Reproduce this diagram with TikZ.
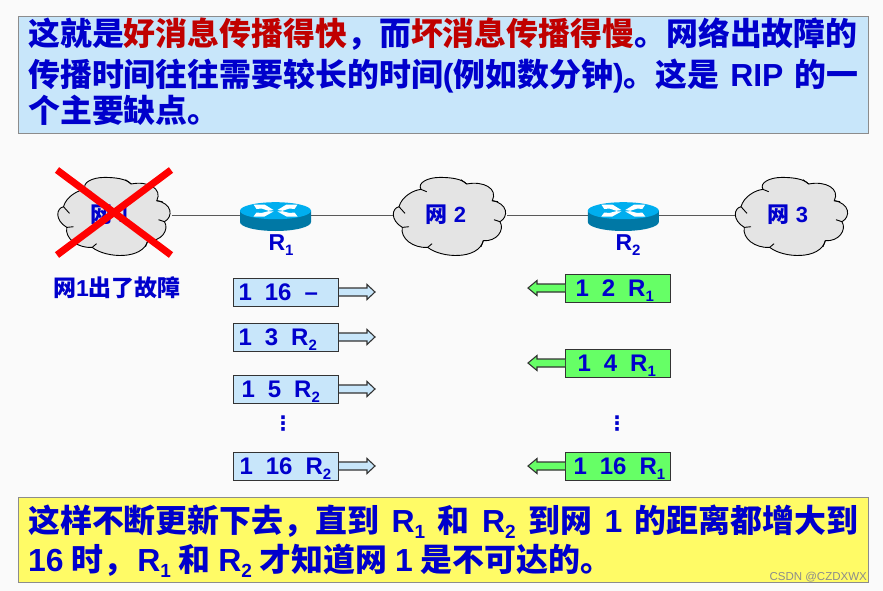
\documentclass[tikz,border=0pt]{standalone}
\usepackage{fontspec}
\setmainfont{Liberation Sans}
\newfontfamily\cjk{Noto Sans CJK SC}
\newfontfamily\dejavu{DejaVu Sans}
\usetikzlibrary{calc}
\definecolor{txtblue}{HTML}{0000CC}
\definecolor{skyfill}{HTML}{C8E6FA}
\definecolor{yellowfill}{HTML}{FFFB66}
\definecolor{greenfill}{HTML}{66FF66}
\definecolor{pagebg}{HTML}{FAFAFA}
\definecolor{cloudfill}{HTML}{E4E4E4}
\definecolor{darkred}{HTML}{C00000}
\definecolor{routertop}{HTML}{00AEEF}
\definecolor{routerside}{HTML}{0078A5}
\newcommand{\zh}[1]{{\cjk #1}}
\newcommand{\subs}[1]{\raisebox{-5pt}{\fontsize{15}{15}\selectfont #1}}
\newcommand{\subb}[1]{\raisebox{-6pt}{\fontsize{19}{19}\selectfont #1}}
\newcommand{\bigline}[2][830pt]{\makebox[#1][s]{\fontsize{31.9}{34}\selectfont\bfseries #2}}
\tikzset{
  x=1pt,y=-1pt,
  panel/.style={draw=black!45,line width=1pt},
  bigtext/.style={anchor=base west,inner sep=0pt,text=txtblue,font=\bfseries\fontsize{31.9}{34}\selectfont},
  netnode/.style={minimum width=114pt,minimum height=78pt,inner sep=0pt,text=txtblue,font=\bfseries\fontsize{22}{24}\selectfont},
  cloudedge/.style={draw=black,line width=0.9pt},
  routerbox/.style={minimum width=71pt,minimum height=30pt,inner sep=0pt},
  link/.style={draw=black!65,line width=1pt},
  rtlabel/.style={text=txtblue,inner sep=0pt,font=\bfseries\fontsize{23}{25}\selectfont},
  tablebox/.style={draw=black!80,line width=1pt,minimum width=105pt,minimum height=28pt,inner sep=0pt,text width=105pt,text height=18pt,text depth=2pt,align=left,text=txtblue,font=\bfseries\fontsize{24}{26}\selectfont},
  bluebox/.style={tablebox,fill=skyfill},
  greenbox/.style={tablebox,fill=greenfill},
  dots/.style={text=txtblue,inner sep=0pt,font=\dejavu\bfseries\fontsize{20}{22}\selectfont},
  crossline/.style={draw=red,line width=7pt},
}
\newcommand{\cloudshape}[2]{%
  \begin{scope}[shift={(#1,#2)}]
    \path[cloudedge,fill=cloudfill] (-51,-9)
      .. controls (-48.3,-19) and (-36.7,-25.7) .. (-29,-26.3)
      .. controls (-33,-33) and (-22,-38.3) .. (-10,-38.3)
      .. controls (0,-38.3) and (12,-37) .. (16.7,-31.7)
      .. controls (33.3,-35) and (48.3,-27.3) .. (42.3,-15)
      .. controls (57.7,-12.3) and (59,1) .. (50,6)
      .. controls (55,14.3) and (46.7,26) .. (33.3,25)
      .. controls (28.3,44.3) and (-8.3,42.7) .. (-22.3,31.7)
      .. controls (-36.7,32.7) and (-50,22.7) .. (-47.7,11.7)
      .. controls (-60,4.3) and (-58.3,-7.3) .. (-51,-9) -- cycle;
    \draw[cloudedge] (-51,-9) .. controls (-48,-6) .. (-45,-2.3);
    \draw[cloudedge] (-29,-26.3) -- (-23.3,-24);
    \draw[cloudedge] (16.7,-31.7) -- (11,-36);
    \draw[cloudedge] (42.3,-15) -- (48,-14);
    \draw[cloudedge] (50,6) -- (44,4);
    \draw[cloudedge] (33.3,25) -- (31,31);
    \draw[cloudedge] (-22.3,31.7) -- (-18,28);
    \draw[cloudedge] (-47.7,11.7) -- (-41,11);
  \end{scope}}
\newcommand{\rightarrowshape}[1]{%
  \draw[black!80,line width=1.1pt,fill=skyfill] ($(#1.east)+(0,-4)$) -- ++(28,0) -- ++(0,-3.5) -- ++(8,7.5) -- ++(-8,7.5) -- ++(0,-3.5) -- ++(-28,0);}
\newcommand{\leftarrowshape}[1]{%
  \draw[black!80,line width=1.1pt,fill=greenfill] ($(#1.west)+(0,-4)$) -- ++(-28,0) -- ++(0,-3.5) -- ++(-9,7.5) -- ++(9,7.5) -- ++(0,-3.5) -- ++(28,0);}
\newcommand{\routershape}[1]{%
  \begin{scope}[shift={(#1.center)}]
    \fill[routerside] (-35.5pt,6.3pt) -- (-35.5pt,-5pt) arc[x radius=35.5pt,y radius=9pt,start angle=180,end angle=360] -- (35.5pt,6.3pt) -- cycle;
    \fill[routertop] (0pt,6.3pt) ellipse[x radius=35.5pt,y radius=8.5pt];
    \fill[white] (-22,-12.5) -- (-11,-12.5) -- (-2,-7) -- (-7,-6.2) -- (-14,-8.5) -- (-19,-8) -- cycle;
    \fill[white] (22,-12.5) -- (11,-12.5) -- (2,-7) -- (7,-6.2) -- (14,-8.5) -- (19,-8) -- cycle;
    \fill[white] (-22,-0.5) -- (-11,-0.5) -- (-2,-5.5) -- (-7,-5.8) -- (-14,-4) -- (-19,-4.5) -- cycle;
    \fill[white] (22,-0.5) -- (11,-0.5) -- (2,-5.5) -- (7,-5.8) -- (14,-4) -- (19,-4.5) -- cycle;
  \end{scope}}
\begin{document}
\begin{tikzpicture}
\fill[pagebg] (0,0) rectangle (883,591);
\useasboundingbox (0,0) rectangle (883,591);

% top panel
\path[panel,fill=skyfill] (18,17) rectangle (868,134);
\node[bigtext] (t1) at (28,46) {\bigline{\zh{这就是\textcolor{darkred}{好消息传播得快}，而\textcolor{darkred}{坏消息传播得慢}。网络出故障的}}};
\node[bigtext] (t2) at (28,87) {\bigline{\zh{传播时间往往需要较长的时间}(\zh{例如数分钟})\zh{。这是} RIP \zh{的一}}};
\node[bigtext] (t3) at (28,123) {\zh{个主要缺点。}};

% network
\cloudshape{114.5}{215.7}
\cloudshape{450}{215.7}
\cloudshape{792}{215.7}
\node[netnode] (n1) at (114.5,215) {\zh{网} 1\hspace*{8pt}};
\node[netnode] (n2) at (450,215) {\zh{网} 2\hspace*{8pt}};
\node[netnode] (n3) at (792,215) {\zh{网} 3\hspace*{8pt}};
\node[routerbox] (r1) at (275.5,217) {};
\node[routerbox] (r2) at (623.3,217) {};
\draw[link] (n1.east) -- (n1.east -| r1.west);
\draw[link] (n2.west -| r1.east) -- (n2.west);
\draw[link] (n2.east) -- (n2.east -| r2.west);
\draw[link] (n3.west -| r2.east) -- (n3.west);
\routershape{r1}
\routershape{r2}
\node[rtlabel] (l1) at (281,245) {R\subs{1}};
\node[rtlabel] (l2) at (628,245) {R\subs{2}};
\draw[crossline] (57,170) -- (171,255);
\draw[crossline] (171,170) -- (57,255);
\node[text=txtblue,inner sep=0pt,font=\bfseries\fontsize{23}{25}\selectfont] (fail) at (117,288) {\zh{网}1\zh{出了故障}};

% left tables
\node[bluebox] (a1) at (286,292) {\hspace*{5pt}1\hspace{13pt}16\hspace{13pt}–};
\node[bluebox] (a2) at (286,337) {\hspace*{5pt}1\hspace{13pt}3\hspace{13pt}R\subs{2}};
\node[bluebox] (a3) at (286,389) {\hspace*{8pt}1\hspace{13pt}5\hspace{13pt}R\subs{2}};
\node[bluebox] (a4) at (286,466) {\hspace*{6pt}1\hspace{13pt}16\hspace{13pt}R\subs{2}};
\rightarrowshape{a1}\rightarrowshape{a2}\rightarrowshape{a3}\rightarrowshape{a4}
\node[dots] (d1) at (283,424) {⋮};

% right tables
\node[greenbox] (b1) at (618,288) {\hspace*{10pt}1\hspace{13pt}2\hspace{13pt}R\subs{1}};
\node[greenbox] (b2) at (618,363) {\hspace*{12pt}1\hspace{13pt}4\hspace{13pt}R\subs{1}};
\node[greenbox] (b3) at (618,466) {\hspace*{8pt}1\hspace{13pt}16\hspace{13pt}R\subs{1}};
\leftarrowshape{b1}\leftarrowshape{b2}\leftarrowshape{b3}
\node[dots] (d2) at (617,424) {⋮};

% bottom panel
\path[panel,fill=yellowfill] (18,497) rectangle (868,582);
\node[bigtext] (b4) at (28,532) {\bigline{\zh{这样不断更新下去，直到} R\subb{1} \zh{和} R\subb{2} \zh{到网} 1 \zh{的距离都增大到}}};
\node[bigtext] (b5) at (28,571) {\bigline[584pt]{16 \zh{时，}\hspace{2pt}R\subb{1} \zh{和} R\subb{2} \zh{才知道网} 1 \zh{是不可达的。}}};
\node[anchor=east,inner sep=0pt,text=black!45,font=\fontsize{11.5}{13}\selectfont] (wm) at (867,577) {CSDN @CZDXWX};
\end{tikzpicture}
\end{document}
